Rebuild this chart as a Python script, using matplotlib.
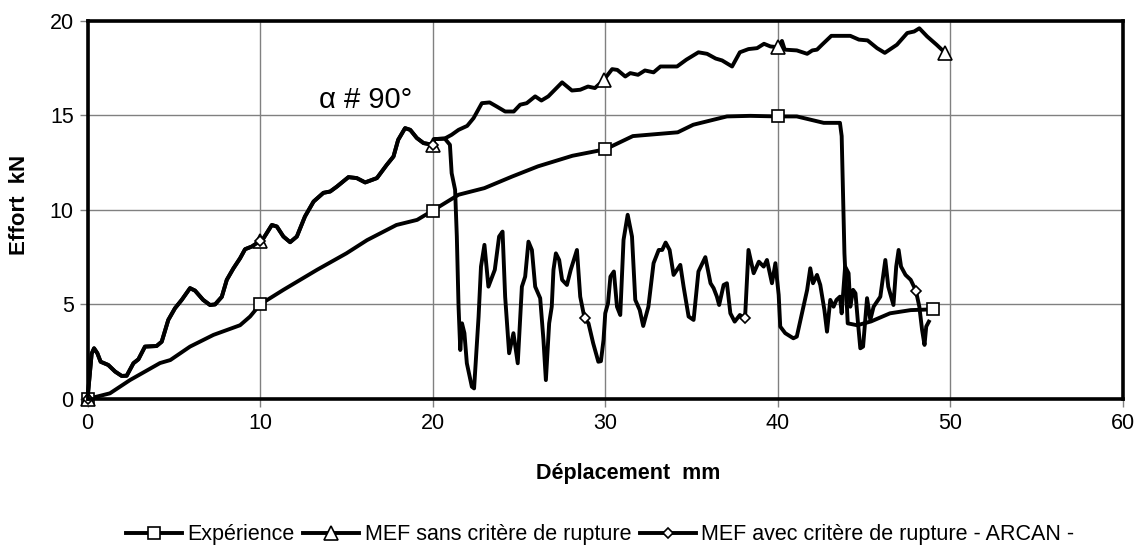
import numpy as np
import matplotlib
matplotlib.use("Agg")
import matplotlib.pyplot as plt

plt.rcParams['font.family'] = ['Liberation Sans', 'DejaVu Sans']

# Expérience
exp_x = [0, 1.3, 2.46, 4.2, 4.8, 5.94, 7.3, 8.84, 9.42, 10.0, 11.35, 13.3, 15.0, 16.2,
         17.9, 19.1, 20.0, 21.5, 23.0, 24.6, 26.1, 28.1, 30.0, 31.6, 34.2, 35.1, 37.05,
         38.4, 40.0, 41.1, 42.66, 43.6, 43.7, 43.86, 44.05, 44.6, 45.4, 46.5, 47.7, 49.0]
exp_y = [0, 0.3, 1.0, 1.9, 2.06, 2.77, 3.39, 3.9, 4.36, 5.0, 5.77, 6.83, 7.7, 8.4,
         9.2, 9.47, 9.96, 10.8, 11.15, 11.76, 12.3, 12.86, 13.2, 13.9, 14.1, 14.5, 14.94,
         14.97, 14.94, 14.94, 14.6, 14.6, 13.9, 7.7, 4.0, 3.9, 4.1, 4.53, 4.7, 4.74]
exp_marks = [0, 10, 20, 30, 40, 49]

# both FE models share the start of the curve
common_x = [0, 0.24, 0.38, 0.57, 0.76, 1.2, 1.6, 1.98, 2.27, 2.66, 2.95, 3.33, 4.0, 4.3,
            4.68, 5.07, 5.46, 5.94, 6.23, 6.7, 7.1, 7.39, 7.78, 8.07, 8.45, 8.84, 9.13,
            9.52, 10.0, 10.2, 10.68, 10.97, 11.35, 11.74, 12.13, 12.6, 13.1, 13.67, 14.06,
            14.45, 15.12, 15.6, 16.09, 16.77, 17.34, 17.73, 18.0, 18.4, 18.7, 19.08, 19.47,
            20.0, 20.1, 20.7]
common_y = [0, 2.4, 2.68, 2.42, 1.97, 1.8, 1.45, 1.22, 1.23, 1.89, 2.1, 2.77, 2.8, 3.03,
            4.18, 4.8, 5.24, 5.86, 5.73, 5.24, 4.97, 5.0, 5.4, 6.3, 6.9, 7.44, 7.92,
            8.06, 8.35, 8.5, 9.2, 9.12, 8.59, 8.29, 8.59, 9.65, 10.44, 10.9, 10.97,
            11.23, 11.73, 11.68, 11.45, 11.68, 12.38, 12.82, 13.7, 14.32, 14.23, 13.8, 13.53,
            13.44, 13.74, 13.77]

# MEF sans critère de rupture (after 20.7 mm)
sans_x = [21.1, 21.5, 22.0, 22.37, 22.85, 23.3, 23.7, 24.2, 24.7, 25.07, 25.45, 25.94,
          26.3, 26.7, 27.5, 28.07, 28.55, 29.0, 29.4, 29.9, 30.4, 30.7, 31.16, 31.45,
          31.9, 32.3, 32.8, 33.2, 34.16, 34.7, 35.4, 35.9, 36.4, 36.77, 37.35, 37.8,
          38.3, 38.8, 39.2, 39.57, 40.0, 40.24, 40.4, 41.1, 41.7, 42.0, 42.27, 42.56,
          43.1, 44.2, 44.7, 45.2, 45.75, 46.2, 46.9, 47.5, 47.9, 48.2, 48.65, 49.2, 49.7]
sans_y = [13.97, 14.23, 14.44, 14.85, 15.64, 15.68, 15.47, 15.2, 15.2, 15.56, 15.64, 16.0,
          15.78, 16.0, 16.74, 16.31, 16.35, 16.52, 16.44, 16.85, 17.44, 17.4, 17.05, 17.23,
          17.14, 17.37, 17.27, 17.58, 17.58, 17.94, 18.33, 18.25, 18.0, 17.9, 17.58, 18.33,
          18.5, 18.55, 18.78, 18.64, 18.6, 18.93, 18.47, 18.43, 18.25, 18.43, 18.47, 18.73,
          19.2, 19.2, 19.0, 18.96, 18.55, 18.3, 18.73, 19.35, 19.43, 19.6, 19.17, 18.73, 18.3]
sans_marks = [0, 10, 20, 29.9, 40, 49.7]

# MEF avec critère de rupture (after 20.7 mm)
avec_x = [21.0, 21.1, 21.3, 21.4, 21.5, 21.6, 21.7, 21.84, 21.98, 22.27, 22.4, 22.66,
          22.8, 23.0, 23.23, 23.6, 23.85, 24.05, 24.2, 24.43, 24.68, 24.93, 25.17, 25.36,
          25.55, 25.75, 25.94, 26.23, 26.42, 26.56, 26.75, 26.9, 27.0, 27.14, 27.33, 27.5,
          27.78, 28.0, 28.36, 28.55, 28.8, 29.03, 29.3, 29.6, 29.75, 29.9, 30.0, 30.16,
          30.3, 30.5, 30.68, 30.87, 31.06, 31.3, 31.55, 31.74, 32.0, 32.2, 32.5, 32.8,
          33.1, 33.3, 33.5, 33.73, 33.96, 34.35, 34.54, 34.83, 35.12, 35.4, 35.8, 36.1,
          36.28, 36.47, 36.6, 36.86, 37.05, 37.25, 37.5, 37.8, 38.1, 38.3, 38.6, 38.9,
          39.18, 39.37, 39.66, 39.86, 40.05, 40.14, 40.43, 40.9, 41.1, 41.4, 41.7, 41.88,
          42.04, 42.27, 42.46, 42.7, 42.85, 43.04, 43.23, 43.4, 43.6, 43.7, 43.9, 44.1,
          44.2, 44.36, 44.5, 44.63, 44.78, 44.94, 45.17, 45.36, 45.55, 45.94, 46.23, 46.4,
          46.7, 46.86, 47.0, 47.14, 47.4, 47.7, 48.0, 48.2, 48.36, 48.5, 48.6, 48.75]
avec_y = [13.44, 11.94, 11.06, 8.59, 4.88, 2.59, 4.0, 3.48, 1.89, 0.65, 0.56, 4.35,
          7.0, 8.15, 5.94, 6.83, 8.59, 8.85, 5.41, 2.42, 3.48, 1.89, 5.94, 6.47,
          8.32, 7.88, 5.94, 5.33, 3.12, 1.0, 4.0, 4.88, 6.83, 7.7, 7.35, 6.3,
          6.03, 6.83, 7.88, 5.41, 4.27, 4.0, 2.95, 1.97, 2.0, 3.12, 4.53, 5.06,
          6.47, 6.74, 4.88, 4.44, 8.41, 9.74, 8.59, 5.24, 4.7, 3.86, 4.88, 7.18,
          7.88, 7.88, 8.27, 7.88, 6.56, 7.09, 5.94, 4.36, 4.18, 6.74, 7.5, 6.12,
          5.86, 5.41, 4.97, 6.03, 6.12, 4.53, 4.09, 4.44, 4.27, 7.88, 6.65, 7.26,
          7.0, 7.35, 6.12, 7.18, 5.5, 3.83, 3.48, 3.21, 3.3, 4.53, 5.77, 6.91,
          6.12, 6.56, 6.03, 4.7, 3.56, 5.24, 4.88, 5.24, 5.41, 4.53, 7.0, 6.65,
          4.88, 5.77, 5.59, 4.18, 2.68, 2.77, 5.33, 4.18, 4.88, 5.41, 7.35, 5.94,
          4.97, 7.0, 7.88, 7.0, 6.56, 6.3, 5.73, 4.88, 3.65, 2.86, 3.83, 4.09]
avec_marks = [0, 10, 20, 28.8, 38.1, 48.0]

labels = ['Expérience', 'MEF sans critère de rupture',
          'MEF avec critère de rupture - ARCAN -']


def mark_idx(x, marks):
    x = np.asarray(x)
    return [int(np.argmin(np.abs(x - m))) for m in marks]


series = [
    (exp_x, exp_y, exp_marks, 's', 8.5),
    (common_x + sans_x, common_y + sans_y, sans_marks, '^', 9.5),
    (common_x + avec_x, common_y + avec_y, avec_marks, 'D', 5),
]

fig = plt.figure(figsize=(11.41, 5.48), dpi=100)
ax = fig.add_axes([0.0767, 0.2719, 0.9075, 0.6903])

for (x, y, marks, mk, ms), lab in zip(series, labels):
    ax.plot(x, y, color='black', lw=2.8, marker=mk, ms=ms, mfc='white',
            mec='black', mew=1.2, markevery=mark_idx(x, marks), label=lab,
            clip_on=False, zorder=3)

ax.set_xlim(0, 60)
ax.set_ylim(0, 20)
ax.set_xticks(np.arange(0, 61, 10))
ax.set_yticks(np.arange(0, 21, 5))
ax.grid(True, color='#808080', lw=1.0)
ax.set_axisbelow(True)
for s in ax.spines.values():
    s.set_linewidth(2.6)
    s.set_zorder(4)
ax.tick_params(labelsize=15.5, length=6, width=1, color='#808080', pad=4)

ax.text(16.1, 15.8, 'α # 90°', fontsize=21, ha='center', va='center')

ax.set_xlabel('Déplacement  mm', fontsize=15.5, fontweight='bold')
ax.xaxis.set_label_coords(0.522, -0.196)
ax.xaxis.label.set_verticalalignment('center')
ax.set_ylabel('Effort  kN', fontsize=16, fontweight='bold')
ax.yaxis.set_label_coords(-0.0657, 0.513)
ax.yaxis.label.set_verticalalignment('center')

fig.legend(loc='center', bbox_to_anchor=(0.526, 0.024), ncol=3, frameon=False,
           fontsize=15.5, handlelength=2.6, handletextpad=0.25, columnspacing=0.4)

fig.savefig('out.png', dpi=100)
